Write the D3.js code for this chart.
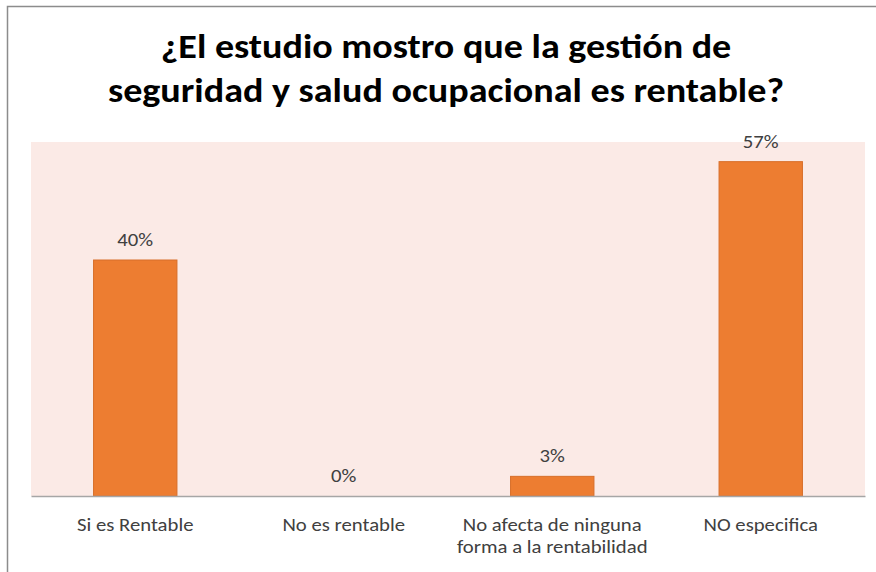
<!DOCTYPE html>
<html>
<head>
<meta charset="utf-8">
<script src="https://cdn.jsdelivr.net/npm/d3@7"></script>
<style>
  body { margin: 0; background: #fff; }
  svg { display: block; font-family: Carlito, Calibri, Lato, sans-serif; }
</style>
</head>
<body>
<div id="chart"></div>
<script>
// Datos del gráfico
const titleLines = ["¿El estudio mostro que la gestión de", "seguridad y salud ocupacional es rentable?"];
const categories = ["Si es Rentable", "No es rentable", "No afecta de ninguna\nforma a la rentabilidad", "NO especifica"];
const values = [40, 0, 3.33, 56.67];
const valueLabels = ["40%", "0%", "3%", "57%"];
const yDomain = [0, 60];

const width = 876;
const height = 572;
const plot = { left: 31, right: 865, top: 142, bottom: 496 };
const stretch = 1.12; // el original está un poco ensanchado

/**
 * Ensancha horizontalmente un texto ya dibujado.
 */
function widen(sel) {
    sel.each(function () {
        const len = this.getComputedTextLength();
        d3.select(this)
            .attr("textLength", len * stretch)
            .attr("lengthAdjust", "spacingAndGlyphs");
    });
}

const svg = d3.select("#chart").append("svg")
    .attr("width", width)
    .attr("height", height);

// Marco del gráfico
svg.append("path")
    .attr("d", `M7.5,${height} V6.5 H${width}`)
    .attr("fill", "none")
    .attr("stroke", "#8c8c8c")
    .attr("stroke-width", 1.5);

// Título
svg.append("g").selectAll("text")
    .data(titleLines)
    .enter().append("text")
    .attr("x", 446)
    .attr("y", (d, i) => 58 + i * 44)
    .attr("text-anchor", "middle")
    .attr("font-size", 34)
    .attr("font-weight", "bold")
    .attr("fill", "#000")
    .text(d => d)
    .call(widen);

const x = d3.scaleBand()
    .domain(categories)
    .range([plot.left, plot.right])
    .paddingInner(0.6)
    .paddingOuter(0.3);

const y = d3.scaleLinear()
    .domain(yDomain)
    .range([plot.bottom, plot.top]);

// Fondo del área de trazado
svg.append("rect")
    .attr("x", plot.left)
    .attr("y", plot.top)
    .attr("width", plot.right - plot.left)
    .attr("height", plot.bottom - plot.top)
    .attr("fill", "#fbeae6");

// Barras
svg.selectAll("rect.bar")
    .data(values)
    .enter().append("rect")
    .attr("class", "bar")
    .attr("x", (d, i) => x(categories[i]))
    .attr("y", d => y(d))
    .attr("width", x.bandwidth())
    .attr("height", d => y(0) - y(d))
    .attr("fill", "#ed7d31")
    .attr("stroke", "#d86f2a")
    .attr("stroke-width", d => d > 0 ? 1 : 0);

// Etiquetas de datos
svg.selectAll("text.value")
    .data(values)
    .enter().append("text")
    .attr("class", "value")
    .attr("x", (d, i) => x(categories[i]) + x.bandwidth() / 2)
    .attr("y", d => y(d) - 14)
    .attr("text-anchor", "middle")
    .attr("font-size", 18.5)
    .attr("fill", "#404040")
    .text((d, i) => valueLabels[i])
    .call(widen);

// Eje X
const xAxis = svg.append("g")
    .attr("transform", `translate(0,${plot.bottom})`)
    .call(d3.axisBottom(x).tickSize(0).tickFormat(""));
xAxis.select(".domain").attr("stroke", "#a6a6a6").attr("stroke-width", 1.5);

const catLabels = svg.append("g").selectAll("text")
    .data(categories)
    .enter().append("text")
    .attr("x", d => x(d) + x.bandwidth() / 2)
    .attr("y", plot.bottom + 35)
    .attr("text-anchor", "middle")
    .attr("font-size", 18.5)
    .attr("fill", "#404040");

catLabels.selectAll("tspan")
    .data(d => d.split("\n"))
    .enter().append("tspan")
    .attr("x", function () { return d3.select(this.parentNode).attr("x"); })
    .attr("dy", (d, i) => i === 0 ? 0 : 22)
    .text(d => d)
    .call(widen);
</script>
</body>
</html>
